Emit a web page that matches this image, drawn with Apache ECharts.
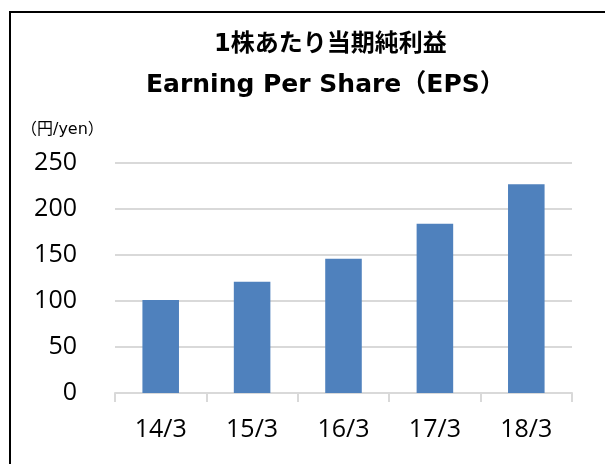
<html>
<head>
<meta charset="utf-8">
<title>EPS</title>
<script src="https://cdn.jsdelivr.net/npm/echarts@6/dist/echarts.min.js"></script>
<style>
html, body { margin: 0; padding: 0; background: #fff; }
#chart { width: 605px; height: 464px; }
</style>
</head>
<body>
<div id="chart"></div>
<script>
// 決算期
var periods = ['14/3', '15/3', '16/3', '17/3', '18/3'];
// 1株あたり当期純利益（円）
var eps = [101, 121, 146, 184, 227];
// 目盛
var yTicks = [0, 50, 100, 150, 200, 250];

var myChart = echarts.init(document.getElementById('chart'));

var titleFont = 'DejaVu Sans, Noto Sans CJK JP';

var option = {
	backgroundColor: '#fff',
	animation: false,
	title: [
		{
			text: '1株あたり当期純利益',
			left: 209,
			top: 28,
			textStyle: { fontFamily: titleFont, fontSize: 24, fontWeight: 'bold', color: '#000' }
		},
		{
			text: 'Earning Per Share（EPS）',
			left: 141,
			top: 68,
			textStyle: { fontFamily: titleFont, fontSize: 25, fontWeight: 'bold', color: '#000' }
		},
		{
			text: '（円/yen）',
			left: 16,
			top: 117,
			textStyle: { fontFamily: titleFont, fontSize: 16, fontWeight: 'normal', color: '#000' }
		}
	],
	graphic: [{
		type: 'rect',
		z: -10,
		shape: { x: 10, y: 12, width: 700, height: 600 },
		style: { fill: 'none', stroke: '#000', lineWidth: 2 }
	}],
	grid: { left: 115, right: 33, top: 163, bottom: 71 },
	xAxis: {
		type: 'category',
		data: periods,
		axisLine: { lineStyle: { color: '#d9d9d9', width: 2 } },
		axisTick: { show: true, length: 9, lineStyle: { color: '#d9d9d9', width: 2 } },
		axisLabel: { color: '#000', fontFamily: 'Open Sans', fontSize: 25, margin: 24 }
	},
	yAxis: {
		type: 'value',
		min: yTicks[0],
		max: yTicks[yTicks.length - 1],
		interval: yTicks[1] - yTicks[0],
		axisLine: { show: false },
		axisTick: { show: false },
		splitLine: { lineStyle: { color: '#d9d9d9', width: 2 } },
		axisLabel: { color: '#000', fontFamily: 'Open Sans', fontSize: 25, margin: 38 }
	},
	series: [{
		type: 'bar',
		data: eps,
		barWidth: '40%',
		itemStyle: { color: '#4f81bd' }
	}]
};

myChart.setOption(option);
</script>
</body>
</html>
